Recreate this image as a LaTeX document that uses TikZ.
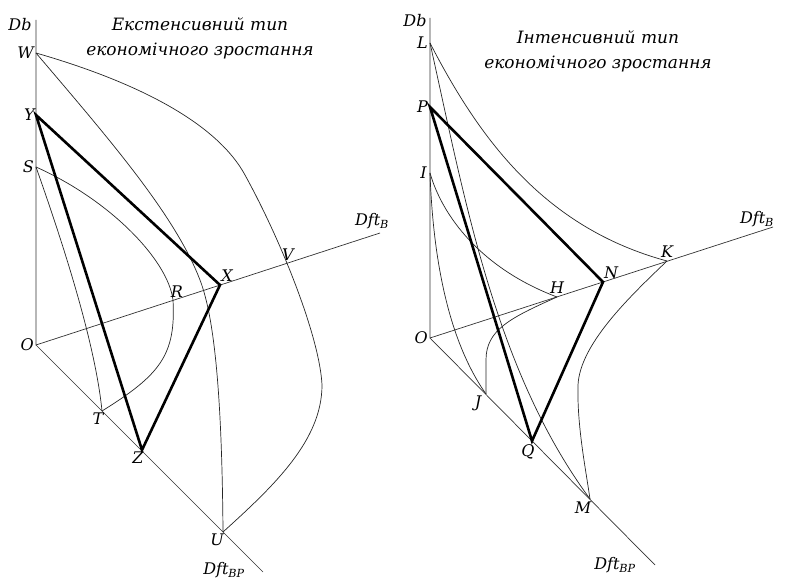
\documentclass[tikz,border=0pt]{standalone}
\usepackage{fontspec}
\setmainfont{DejaVu Serif}
\usetikzlibrary{positioning}

\begin{document}
\begin{tikzpicture}[x=1pt, y=-1pt,
    axis/.style={line width=0.7pt, color=black!80},
    curve/.style={line width=0.7pt, color=black!85},
    tri/.style={line width=2.6pt, line join=miter},
    lbl/.style={font=\fontsize{16}{18}\selectfont\itshape, inner sep=0pt},
    ttl/.style={font=\fontsize{17}{25}\selectfont\itshape, align=center, inner sep=0pt}]
  \useasboundingbox (0,0) rectangle (785,580);

  % Left: extensive type
  \coordinate (O1) at (36,345);
  \coordinate (db1) at (36,20);
  \coordinate (b1) at (380,233);
  \coordinate (bp1) at (263,572);
  \coordinate (W) at (36,53);
  \coordinate (Y) at (36,115);
  \coordinate (S) at (36,167);
  \coordinate (R) at (173,300);
  \coordinate (X) at (220,285);
  \coordinate (V) at (287,263);
  \coordinate (T) at (102,411);
  \coordinate (Z) at (142,450);
  \coordinate (U) at (223,532);

  \draw [axis] (db1) -- (O1) -- (b1);
  \draw [axis] (O1) -- (bp1);

  \draw [curve] (W) .. controls (130,80) and (215,120) .. (245,175)
    .. controls (284,246) and (320,340) .. (322,385)
    .. controls (322,440) and (275,485) .. (U);
  \draw [curve] (W) .. controls (110,140) and (175,215) .. (200,280)
    .. controls (215,319) and (222,400) .. (U);
  \draw [curve] (S) .. controls (110,200) and (168,260) .. (R)
    .. controls (176,355) and (160,375) .. (T);
  \draw [curve] (S) .. controls (60,235) and (95,340) .. (T);
  \draw [tri] (Y) -- (X) -- (Z) -- cycle;

  \node [ttl] (title1) at (200,38) {Екстенсивний тип\\економічного зростання};
  \node [lbl] (lDb1) at (20,25) {Db};
  \node [lbl, left=2pt of W] (lW) {W};
  \node [lbl, left=1pt of Y] (lY) {Y};
  \node [lbl, left=2pt of S] (lS) {S};
  \node [lbl, left=2pt of O1] (lO1) {O};
  \node [lbl, above=2pt of R, xshift=4pt] (lR) {R};
  \node [lbl, above=3pt of X, xshift=7pt] (lX) {X};
  \node [lbl, above=2pt of V, xshift=1pt] (lV) {V};
  \node [lbl, below=2pt of T, xshift=-4pt] (lT) {T};
  \node [lbl, below=2pt of Z, xshift=-4pt] (lZ) {Z};
  \node [lbl, below=2pt of U, xshift=-6pt] (lU) {U};
  \node [lbl] (lB1) at (372,221) {Dft\textsubscript{B}};
  \node [lbl] (lBP1) at (224,570) {Dft\textsubscript{BP}};

  % Right: intensive type
  \coordinate (O2) at (430,338);
  \coordinate (db2) at (430,18);
  \coordinate (b2) at (773,227);
  \coordinate (bp2) at (655,565);
  \coordinate (L) at (430,43);
  \coordinate (P) at (430,107);
  \coordinate (I) at (430,173);
  \coordinate (K) at (667,261);
  \coordinate (N) at (603,282);
  \coordinate (H) at (557,297);
  \coordinate (J) at (486,394);
  \coordinate (Q) at (532,441);
  \coordinate (M) at (590,499);

  \draw [axis] (db2) -- (O2) -- (b2);
  \draw [axis] (O2) -- (bp2);

  \draw [curve] (L) .. controls (480,140) and (545,228) .. (K);
  \draw [curve] (K) .. controls (627,299) and (580,345) .. (578,385)
    .. controls (577,425) and (585,465) .. (M);
  \draw [curve] (L) .. controls (465,200) and (495,370) .. (M);
  \draw [curve] (I) .. controls (442,215) and (480,268) .. (H);
  \draw [curve] (H) .. controls (510,318) and (486,330) .. (486,360) -- (J);
  \draw [curve] (I) .. controls (433,258) and (448,340) .. (J);
  \draw [tri] (P) -- (N) -- (Q) -- cycle;

  \node [ttl] (title2) at (598,51) {Інтенсивний тип\\економічного зростання};
  \node [lbl] (lDb2) at (415,21) {Db};
  \node [lbl, left=2pt of L] (lL) {L};
  \node [lbl, left=2pt of P] (lP) {P};
  \node [lbl, left=3pt of I] (lI) {I};
  \node [lbl, left=2pt of O2] (lO2) {O};
  \node [lbl, above=3pt of K] (lK) {K};
  \node [lbl, above=3pt of N, xshift=8pt] (lN) {N};
  \node [lbl, above=3pt of H] (lH) {H};
  \node [lbl, below=2pt of J, xshift=-8pt] (lJ) {J};
  \node [lbl, below=3pt of Q, xshift=-4pt] (lQ) {Q};
  \node [lbl, below=3pt of M, xshift=-7pt] (lM) {M};
  \node [lbl] (lB2) at (757,219) {Dft\textsubscript{B}};
  \node [lbl] (lBP2) at (615,565) {Dft\textsubscript{BP}};
\end{tikzpicture}
\end{document}
